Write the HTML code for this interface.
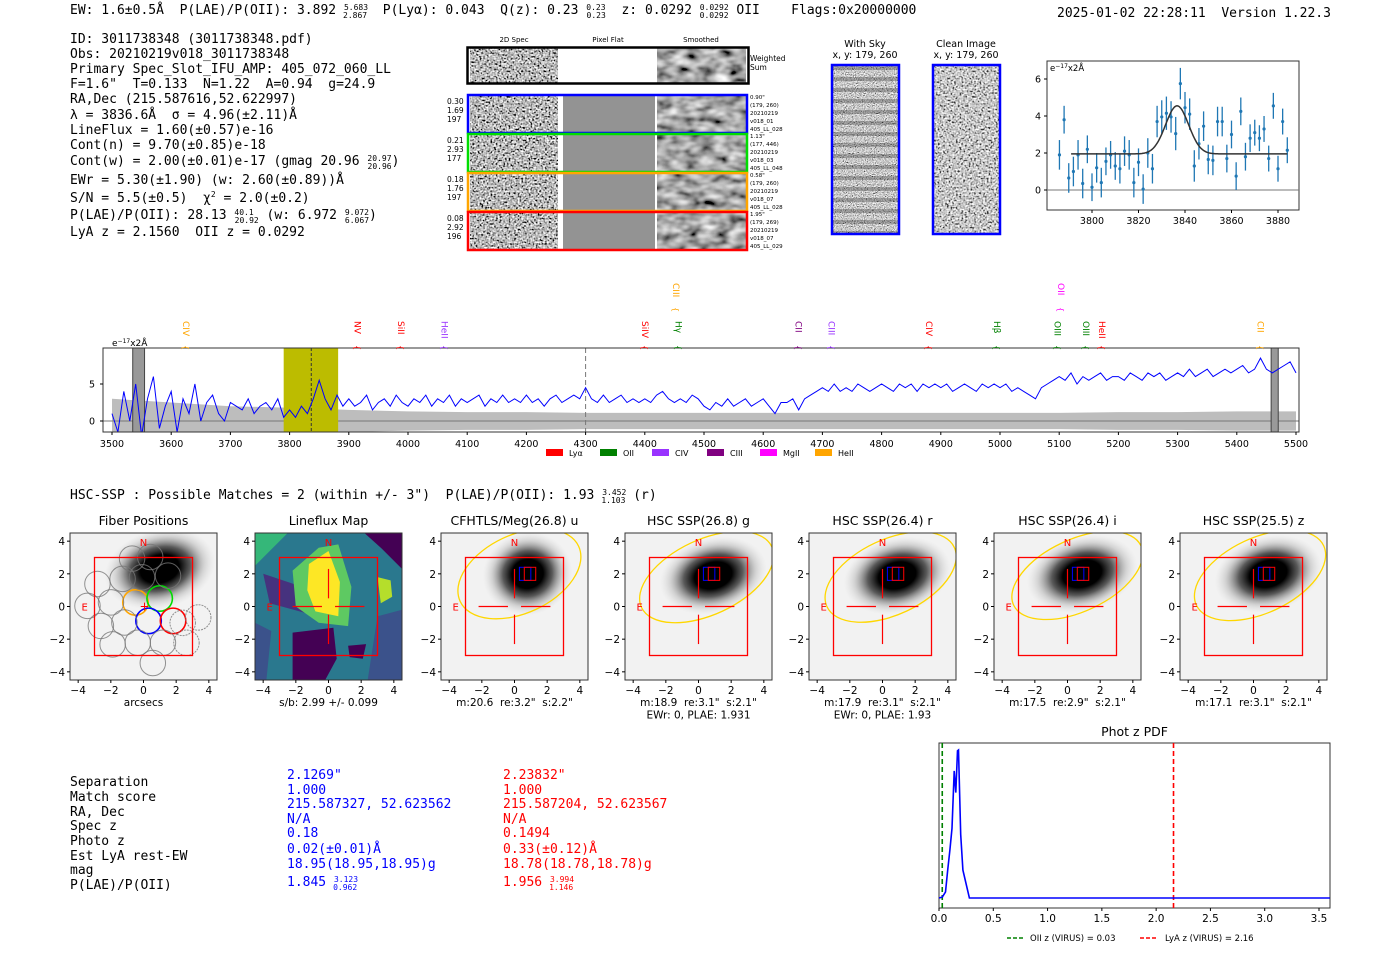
<!DOCTYPE html>
<html><head><meta charset="utf-8"><title>HETDEX detection 3011738348</title>
<style>
html,body{margin:0;padding:0;background:#fff;}
svg{display:block;}
text{white-space:pre;}
.mono{font-family:"DejaVu Sans Mono","Liberation Mono",monospace;font-size:13px;}
.sans{font-family:"DejaVu Sans","Liberation Sans",sans-serif;}
</style></head>
<body>
<svg id="fig" xmlns="http://www.w3.org/2000/svg" xml:space="preserve" width="1400" height="953" viewBox="0 0 1400 953">
<defs>
<filter id="nz" x="0" y="0" width="100%" height="100%"><feTurbulence type="fractalNoise" baseFrequency="0.55" numOctaves="1" seed="4"/><feColorMatrix type="matrix" values="0.33 0.33 0.33 0 0 0.33 0.33 0.33 0 0 0.33 0.33 0.33 0 0 0 0 0 0 1"/><feComponentTransfer><feFuncR type="linear" slope="4" intercept="-1.5"/><feFuncG type="linear" slope="4" intercept="-1.5"/><feFuncB type="linear" slope="4" intercept="-1.5"/><feFuncA type="linear" slope="0" intercept="1"/></feComponentTransfer></filter>
<filter id="nzs" x="0" y="0" width="100%" height="100%"><feTurbulence type="fractalNoise" baseFrequency="0.07 0.12" numOctaves="2" seed="9"/><feColorMatrix type="matrix" values="0.33 0.33 0.33 0 0 0.33 0.33 0.33 0 0 0.33 0.33 0.33 0 0 0 0 0 0 1"/><feComponentTransfer><feFuncR type="linear" slope="2.2" intercept="-0.7"/><feFuncG type="linear" slope="2.2" intercept="-0.7"/><feFuncB type="linear" slope="2.2" intercept="-0.7"/><feFuncA type="linear" slope="0" intercept="1"/></feComponentTransfer></filter>
<filter id="nzf" x="0" y="0" width="100%" height="100%"><feTurbulence type="fractalNoise" baseFrequency="0.9" numOctaves="1" seed="2"/><feColorMatrix type="matrix" values="0.33 0.33 0.33 0 0 0.33 0.33 0.33 0 0 0.33 0.33 0.33 0 0 0 0 0 0 1"/><feComponentTransfer><feFuncR type="linear" slope="3.2" intercept="-1.0"/><feFuncG type="linear" slope="3.2" intercept="-1.0"/><feFuncB type="linear" slope="3.2" intercept="-1.0"/><feFuncA type="linear" slope="0" intercept="1"/></feComponentTransfer></filter>
<pattern id="stripes" width="10" height="11" patternUnits="userSpaceOnUse"><rect width="10" height="4" fill="#000" opacity="0.25"/></pattern>
<radialGradient id="gal"><stop offset="0" stop-color="#000"/><stop offset="0.35" stop-color="#000"/><stop offset="0.55" stop-color="#333" stop-opacity="0.8"/><stop offset="0.8" stop-color="#999" stop-opacity="0.35"/><stop offset="1" stop-color="#ccc" stop-opacity="0"/></radialGradient>
</defs>

<g class="mono">
<text x="70" y="14">EW: 1.6±0.5Å  P(LAE)/P(OII): 3.892 <tspan font-size="8" dy="-4">5.683</tspan><tspan font-size="8" dx="-25" dy="8">2.867</tspan><tspan dy="-4">  P(Lyα): 0.043  Q(z): 0.23 </tspan><tspan font-size="8" dy="-4">0.23</tspan><tspan font-size="8" dx="-19" dy="8">0.23</tspan><tspan dy="-4">  z: 0.0292 </tspan><tspan font-size="8" dy="-4">0.0292</tspan><tspan font-size="8" dx="-29" dy="8">0.0292</tspan><tspan dy="-4"> OII    Flags:0x20000000</tspan></text>
<text x="1057" y="17">2025-01-02 22:28:11  Version 1.22.3</text>
</g>
<g class="mono">
<text x="70" y="43">ID: 3011738348 (3011738348.pdf)</text>
<text x="70" y="58">Obs: 20210219v018_3011738348</text>
<text x="70" y="73">Primary Spec_Slot_IFU_AMP: 405_072_060_LL</text>
<text x="70" y="88">F=1.6"  T=0.133  N=1.22  A=0.94  g=24.9</text>
<text x="70" y="103">RA,Dec (215.587616,52.622997)</text>
<text x="70" y="119">λ = 3836.6Å  σ = 4.96(±2.11)Å</text>
<text x="70" y="134">LineFlux = 1.60(±0.57)e-16</text>
<text x="70" y="149">Cont(n) = 9.70(±0.85)e-18</text>
<text x="70" y="165">Cont(w) = 2.00(±0.01)e-17 (gmag 20.96 <tspan font-size="8" dy="-4">20.97</tspan><tspan font-size="8" dx="-24" dy="8">20.96</tspan><tspan dy="-4">)</tspan></text>
<text x="70" y="184">EWr = 5.30(±1.90) (w: 2.60(±0.89))Å</text>
<text x="70" y="202">S/N = 5.5(±0.5)  χ<tspan font-size="8" dy="-5">2</tspan><tspan dy="5"> = 2.0(±0.2)</tspan></text>
<text x="70" y="219">P(LAE)/P(OII): 28.13 <tspan font-size="8" dy="-4">40.1</tspan><tspan font-size="8" dx="-19" dy="8">20.92</tspan><tspan dy="-4"> (w: 6.972 </tspan><tspan font-size="8" dy="-4">9.072</tspan><tspan font-size="8" dx="-24" dy="8">6.067</tspan><tspan dy="-4">)</tspan></text>
<text x="70" y="236">LyA z = 2.1560  OII z = 0.0292</text>
</g>

<g class="sans" font-size="7">
<text x="514" y="42" text-anchor="middle">2D Spec</text>
<text x="608" y="42" text-anchor="middle">Pixel Flat</text>
<text x="701" y="42" text-anchor="middle">Smoothed</text>
<rect x="470" y="48" width="88" height="35" filter="url(#nz)"/>
<rect x="558" y="48" width="99" height="35" fill="#fff"/>
<rect x="657" y="48" width="89" height="35" filter="url(#nzs)"/>
<rect x="467.5" y="47.5" width="281" height="36" fill="none" stroke="#000" stroke-width="2.5"/>
<text x="750" y="61" font-size="7.5">Weighted</text><text x="750" y="70" font-size="7.5">Sum</text>
</g>
<g id="specrows" class="sans" font-size="7"></g>

<g class="sans" font-size="9.5">
<text x="865" y="47" text-anchor="middle">With Sky</text><text x="865" y="58" text-anchor="middle">x, y: 179, 260</text>
<rect x="832" y="65" width="67" height="169" filter="url(#nzf)"/>
<rect x="832" y="65" width="67" height="169" fill="url(#stripes)"/>
<rect x="832" y="65" width="67" height="169" fill="none" stroke="#0000ff" stroke-width="2.5"/>
<text x="966" y="47" text-anchor="middle">Clean Image</text><text x="966" y="58" text-anchor="middle">x, y: 179, 260</text>
<rect x="933" y="65" width="67" height="169" filter="url(#nz)" opacity="0.8"/>
<rect x="933" y="65" width="67" height="169" fill="none" stroke="#0000ff" stroke-width="2.5"/>
</g>

<g id="inset"></g>
<g id="spec"></g>

<text class="mono" x="70" y="499">HSC-SSP : Possible Matches = 2 (within +/- 3")  P(LAE)/P(OII): 1.93 <tspan font-size="8" dy="-4">3.452</tspan><tspan font-size="8" dx="-25" dy="8">1.103</tspan><tspan dy="-4"> (r)</tspan></text>

<g id="cutouts"></g>

<g class="mono">
<g>
<text x="70" y="786">Separation</text><text x="70" y="801">Match score</text><text x="70" y="816">RA, Dec</text><text x="70" y="830">Spec z</text><text x="70" y="845">Photo z</text><text x="70" y="860">Est LyA rest-EW</text><text x="70" y="874">mag</text><text x="70" y="889">P(LAE)/P(OII)</text>
</g>
<g fill="#0000ff">
<text x="287" y="779">2.1269"</text><text x="287" y="794">1.000</text><text x="287" y="808">215.587327, 52.623562</text><text x="287" y="823">N/A</text><text x="287" y="837">0.18</text><text x="287" y="853">0.02(±0.01)Å</text><text x="287" y="868">18.95(18.95,18.95)g</text>
<text x="287" y="886">1.845 <tspan font-size="8" dy="-4">3.123</tspan><tspan font-size="8" dx="-25" dy="8">0.962</tspan></text>
</g>
<g fill="#ff0000">
<text x="503" y="779">2.23832"</text><text x="503" y="794">1.000</text><text x="503" y="808">215.587204, 52.623567</text><text x="503" y="823">N/A</text><text x="503" y="837">0.1494</text><text x="503" y="853">0.33(±0.12)Å</text><text x="503" y="868">18.78(18.78,18.78)g</text>
<text x="503" y="886">1.956 <tspan font-size="8" dy="-4">3.994</tspan><tspan font-size="8" dx="-25" dy="8">1.146</tspan></text>
</g>
</g>

<g id="pdf"></g>
</svg>

<script>
const specWaveStart = 3500, specWaveStep = 10;
const specFlux = [1,-1.5,4,0,5,-2,3,6,-1,2, 4,-1.5,3,1,5,0,2.5,3.5,1,0, 2.5,2,1.5,3,1,2,2.5,1.5,3,0.5,
 1.5,0.5,2,1,3,5.5,3,1.5,3.5,2, 3,2,2.5,3.5,1.5,2.5,3,2,3.5,2.5, 2,3,2.5,3.5,2,3,2.5,3.5,2,3,
 2.5,3,3.5,2,3,2.5,3.5,2.5,3,2.5, 3.5,2.5,3,2,3,3.5,2.5,3,3.5,3, 4.5,3,2.5,3.5,2.5,3,3.5,2.5,3,2.5,
 3,2.5,3.5,4,3,2.5,3,2.5,3.5,3, 2,1.5,2.5,2,3,2,2.5,3,2,2.5, 3,2,1,2.5,2.5,3,1.5,3,3.5,4,
 4.5,4,5,4,4.5,4,5,4.5,4,4.5, 5,4.5,4,5,4.5,5,4,5,4.5,5, 4.5,5,4,4.5,5,4.5,4,5,4.5,5,
 4.5,5,4,4.5,4,3.5,3,4.5,5,5.5, 6,5.5,6.5,5,6,5.5,6,6.5,5.5,6, 6,5.5,6.5,6,5.5,6.5,6,6.5,5.5,6,
 6.5,6,7,6,6.5,7,6,6.5,7,6.5, 7,7.5,6.5,7,8.5,7,6.5,7,7.5,8, 6.5];
const errWaveStep = 100;
const specErr = [3,2.5,2,1.8,1.5,1.3,1.2,1.2,1.1,1.1,1.1,1.1,1.1,1.1,1.1,1.1,1.1,1.2,1.2,1.3,1.3];
const specXTicks = [3500,3600,3700,3800,3900,4000,4100,4200,4300,4400,4500,4600,4700,4800,4900,5000,5100,5200,5300,5400,5500];
const specYTicks = [0,5];
const lineNames = ["CIV","NV","SiII","HeII","SiIV","CIII","Hγ","CII","CIII","CIV","Hβ","OIII","OII","OIII","HeII","CII"];
const lineWaves = [3625,3915,3988,4062,4400,4453,4457,4660,4715,4880,4995,5097,5103,5145,5172,5440];
const lineColors = ["#ffa500","#ff0000","#ff0000","#9933ff","#ff0000","#ffa500","#008000","#800080","#9933ff","#ff0000","#008000","#008000","#ff00ff","#008000","#ff0000","#ffa500"];
const lineHigh = [0,0,0,0,0,1,0,0,0,0,0,0,1,0,0,0];
const legendNames = ["Lyα","OII","CIV","CIII","MgII","HeII"];
const legendColors = ["#ff0000","#008000","#9933ff","#800080","#ff00ff","#ffa500"];

const fitWave = [3786,3788,3790,3792,3794,3796,3798,3800,3802,3804,3806,3808,3810,3812,3814,3816,3818,3820,3822,3824,3826,3828,3830,3832,3834,3836,3838,3840,3842,3844,3846,3848,3850,3852,3854,3856,3858,3860,3862,3864,3866,3868,3870,3872,3874,3876,3878,3880,3882,3884];
const fitFlux = [1.9,3.8,0.65,1.0,1.9,0.35,2.2,0.15,1.2,0.4,1.55,1.9,1.3,1.15,2.1,1.9,0.4,1.5,0.05,2.0,1.15,3.7,3.95,4.15,3.95,3.05,5.75,4.45,4.1,1.3,2.5,3.45,1.65,1.6,3.7,3.7,1.7,3.0,0.75,4.25,1.8,2.8,3.1,2.8,3.3,1.7,4.55,1.15,3.7,2.15];
const fitErr = [0.8,0.75,0.8,0.8,0.8,0.8,0.75,0.75,0.8,0.8,0.75,0.75,0.75,0.8,0.8,0.8,0.8,0.75,0.8,0.8,0.8,0.85,0.9,0.9,0.85,0.9,0.85,0.85,0.85,0.85,0.85,0.8,0.8,0.8,0.8,0.8,0.75,0.75,0.75,0.75,0.75,0.75,0.7,0.7,0.7,0.7,0.7,0.7,0.7,0.7];
const fitParams = [1.95, 2.6, 3836.6, 4.96];
const insetXTicks = [3800,3820,3840,3860,3880];
const insetYTicks = [0,2,4,6];

const pdfZ = [0,0.03,0.06,0.08,0.1,0.12,0.14,0.155,0.17,0.18,0.2,0.22,0.28,3.6];
const pdfP = [0,0.006,0.039,0.18,0.31,0.45,0.82,0.68,0.95,0.955,0.41,0.18,0,0];
const pdfXTicks = [0,0.5,1,1.5,2,2.5,3,3.5];
const pdfOIIz = 0.03, pdfLyAz = 2.16;

const rowLabels = [["0.30","1.69","197"],["0.21","2.93","177"],["0.18","1.76","197"],["0.08","2.92","196"]];
const rowInfo = [["0.90\"","(179, 260)","20210219","v018_01","405_LL_028"],["1.13\"","(177, 446)","20210219","v018_03","405_LL_048"],["0.58\"","(179, 260)","20210219","v018_07","405_LL_028"],["1.95\"","(179, 269)","20210219","v018_07","405_LL_029"]];
const rowColors = ["#0000ff","#00dd00","#ffa500","#ff0000"];

const panelTitles = ["Fiber Positions","Lineflux Map","CFHTLS/Meg(26.8) u","HSC SSP(26.8) g","HSC SSP(26.4) r","HSC SSP(26.4) i","HSC SSP(25.5) z"];
const panelCaps = [["arcsecs"],["s/b: 2.99 +/- 0.099"],["m:20.6  re:3.2\"  s:2.2\""],["m:18.9  re:3.1\"  s:2.1\"","EWr: 0, PLAE: 1.931"],["m:17.9  re:3.1\"  s:2.1\"","EWr: 0, PLAE: 1.93"],["m:17.5  re:2.9\"  s:2.1\""],["m:17.1  re:3.1\"  s:2.1\""]];
const panelTicks = [-4,-2,0,2,4];
const fiberX = [-0.49,0.99,0.31,1.81,-2.82,-1.99,-3.43,-2.61,-1.17,-1.89,-0.35,1.19,0.57,-1.28,2.63,3.35,-0.7,0.41,-0.09,1.5,2.4];
const fiberY = [0.25,0.49,-0.88,-0.88,1.38,0.25,0.04,-1.19,-0.98,-2.32,-2.22,-2.22,-3.46,1.69,-2.22,-0.67,2.93,3.03,1.79,1.89,-1.0];
const fiberColor = ["#ffa500","#00dd00","#0000ff","#ff0000","g","g","g","g","g","g","g","g","g","g","d","d","g","g","g","g","d"];
const galX = [1.0,null,0.8,0.9,0.9,0.9,0.9], galY=[2.3,null,2.0,1.9,1.9,2.0,2.0], galRX=[3.0,null,2.4,2.9,2.9,3.0,2.9], galRY=[2.1,null,2.2,2.0,2.0,2.0,2.0];
const ellX=[null,null,0.3,0.5,0.5,0.6,0.4], ellY=[null,null,2.0,1.8,1.8,1.9,1.9], ellRX=[null,null,4.0,4.4,4.3,4.3,4.3], ellRY=[null,null,2.4,2.3,2.3,2.2,2.3];

const NS="http://www.w3.org/2000/svg";
function mk(tag,attrs,parent){const e=document.createElementNS(NS,tag);for(const k in attrs)e.setAttribute(k,attrs[k]);if(parent)parent.appendChild(e);return e;}
function txt(parent,x,y,s,attrs){const t=mk("text",Object.assign({x:x,y:y},attrs||{}),parent);t.textContent=s;return t;}
function lin(d0,d1,r0,r1){return v=>r0+(v-d0)*(r1-r0)/(d1-d0);}
const SANS='"DejaVu Sans","Liberation Sans",sans-serif';

(function(){
 const g=document.getElementById("specrows");
 const tops=[95,134,173,212];
 tops.forEach((t,i)=>{
  const r=mk("g",{},g);
  
  
  mk("rect",{x:470,y:t+1,width:88,height:37,filter:"url(#nz)"},r);
  mk("rect",{x:563,y:t+1,width:92,height:37,fill:"#939393"},r);
  mk("rect",{x:657,y:t+1,width:89,height:37,filter:"url(#nzs)"},r);
  mk("rect",{x:468,y:t,width:279,height:38,fill:"none",stroke:rowColors[i],"stroke-width":2.5},r);
  rowLabels[i].forEach((s,j)=>txt(r,447,t+9+j*9,s,{"font-size":7.5}));
  rowInfo[i].forEach((s,j)=>txt(r,750,t+4+j*8,s,{"font-size":5.5}));
 });
})();

(function(){
 const g=document.getElementById("inset");
 const L=1047,R=1299,T=61,B=210;
 const x=lin(3800,3880,1092,1278), y=lin(0,6,190,79);
 mk("rect",{x:L,y:T,width:R-L,height:B-T,fill:"#fff",stroke:"#333","stroke-width":1},g);
 mk("line",{x1:L,x2:R,y1:y(0),y2:y(0),stroke:"#777","stroke-width":1},g);
 insetXTicks.forEach(v=>{mk("line",{x1:x(v),x2:x(v),y1:B,y2:B+3,stroke:"#000"},g);txt(g,x(v),B+14,String(v),{"text-anchor":"middle","font-size":9.5,"font-family":SANS});});
 insetYTicks.forEach(v=>{mk("line",{x1:L-3,x2:L,y1:y(v),y2:y(v),stroke:"#000"},g);txt(g,L-6,y(v)+3.5,String(v),{"text-anchor":"end","font-size":9.5,"font-family":SANS});});
 fitWave.forEach((w,i)=>{
  const p=mk("line",{x1:x(w),x2:x(w),y1:y(fitFlux[i]-fitErr[i]),y2:y(fitFlux[i]+fitErr[i]),stroke:"#1f77b4","stroke-width":1.3},g);
  
  
  const c=mk("circle",{cx:x(w),cy:y(fitFlux[i]),r:1.6,fill:"#1f77b4"},g);
  
  
 });
 let d="";for(let w=3791;w<=3884;w+=0.5){const f=fitParams[0]+fitParams[1]*Math.exp(-0.5*Math.pow((w-fitParams[2])/fitParams[3],2));d+=(d?"L":"M")+x(w).toFixed(1)+","+y(f).toFixed(1);}
 const m=mk("path",{d:d,fill:"none",stroke:"#333","stroke-width":1.5},g);
 
 
 const t=txt(g,L+3,T+10,"e",{"font-size":8.5,"font-family":SANS});
 const s1=mk("tspan",{"font-size":6,dy:-3},t);s1.textContent="−17";const s2=mk("tspan",{dy:3},t);s2.textContent="x2Å";
})();

(function(){
 const g=document.getElementById("spec");
 const L=103,R=1299,T=348,B=432;
 const x=lin(3500,5500,112,1296), y=lin(0,5,421,384);
 mk("rect",{x:L,y:T,width:R-L,height:B-T,fill:"#fff"},g);
 const cp=mk("clipPath",{id:"specclip"},g); mk("rect",{x:L,y:T,width:R-L,height:B-T},cp);
 const inner=mk("g",{"clip-path":"url(#specclip)"},g);
 let up="",dn=[];
 specErr.forEach((e,i)=>{const w=specWaveStart+i*errWaveStep;up+=(up?"L":"M")+x(w).toFixed(1)+","+y(e).toFixed(1);dn.push(x(w).toFixed(1)+","+y(-e).toFixed(1));});
 const band=mk("path",{d:up+"L"+dn.reverse().join("L")+"Z",fill:"#bdbdbd"},inner);
 
 
 mk("line",{x1:L,x2:R,y1:y(0),y2:y(0),stroke:"#777","stroke-width":1},inner);
 const lw=mk("rect",{x:x(3790),y:T,width:x(3882)-x(3790),height:B-T,fill:"#bcbc00"},inner);
 
 
 mk("line",{x1:x(3836.6),x2:x(3836.6),y1:T,y2:B,stroke:"#333","stroke-dasharray":"3,2"},inner);
 mk("line",{x1:x(4300),x2:x(4300),y1:T,y2:B,stroke:"#777","stroke-dasharray":"5,3"},inner);
 mk("rect",{x:x(3535),y:T,width:x(3555)-x(3535),height:B-T,fill:"#999",stroke:"#444"},inner);
 mk("rect",{x:x(5458),y:T,width:x(5470)-x(5458),height:B-T,fill:"#999",stroke:"#444"},inner);
 let d="";specFlux.forEach((f,i)=>{const w=specWaveStart+i*specWaveStep;d+=(d?"L":"M")+x(w).toFixed(1)+","+y(f).toFixed(1);});
 const sp=mk("path",{d:d,fill:"none",stroke:"#0000ff","stroke-width":1},inner);
 
 
 mk("rect",{x:L,y:T,width:R-L,height:B-T,fill:"none",stroke:"#333","stroke-width":1},g);
 specXTicks.forEach(v=>{mk("line",{x1:x(v),x2:x(v),y1:B,y2:B+3,stroke:"#000"},g);txt(g,x(v),B+15,String(v),{"text-anchor":"middle","font-size":9.5,"font-family":SANS});});
 specYTicks.forEach(v=>{mk("line",{x1:L-3,x2:L,y1:y(v),y2:y(v),stroke:"#000"},g);txt(g,L-8,y(v)+3.5,String(v),{"text-anchor":"end","font-size":9.5,"font-family":SANS});});
 const t=txt(g,112,346,"e",{"font-size":9,"font-family":SANS});
 const s1=mk("tspan",{"font-size":6,dy:-3},t);s1.textContent="−17";const s2=mk("tspan",{dy:3},t);s2.textContent="x2Å";
 lineNames.forEach((n,i)=>{
  const lx=x(lineWaves[i]), ty=lineHigh[i]?283:321;
  const lt=txt(g,0,0,n,{transform:"translate("+(lx-3)+","+ty+") rotate(90)","font-size":9,fill:lineColors[i],"font-family":SANS});
  
  
  txt(g,0,0,"{",{transform:"translate("+(lx-3)+","+(ty+24)+") rotate(90)","font-size":8,fill:lineColors[i],"font-family":SANS});
 });
 const lx0=[546,600,652,707,760,815];
 legendNames.forEach((n,i)=>{
  const lg=mk("g",{},g);
  
  
  mk("rect",{x:lx0[i],y:449,width:17,height:7,fill:legendColors[i]},lg);
  txt(lg,lx0[i]+23,456,n,{"font-size":8,"font-family":SANS});
 });
})();

(function(){
 const g=document.getElementById("cutouts");
 const lefts=[70,255,441,625,809,994,1180], T=533, S=147;
 lefts.forEach((L,p)=>{
  const pg=mk("g",{},g);
  
  
  const x=lin(-4.5,4.5,L,L+S), y=lin(4.5,-4.5,T,T+S), u=S/9;
  const cid="clip"+p; const cp=mk("clipPath",{id:cid},pg); mk("rect",{x:L,y:T,width:S,height:S},cp);
  const inner=mk("g",{"clip-path":"url(#"+cid+")"},pg);
  if(p===1){
   mk("rect",{x:L,y:T,width:S,height:S,fill:"#2a788e"},inner);
   const poly=(pts,c)=>mk("polygon",{points:pts.map(q=>x(q[0]).toFixed(1)+","+y(q[1]).toFixed(1)).join(" "),fill:c},inner);
   poly([[-4.5,4.5],[-2.5,4.5],[-4.5,2.5]],"#35b779");
   poly([[2.2,4.5],[4.5,4.5],[4.5,2.3],[3.2,3.6]],"#440154");
   poly([[-4,2],[-1.6,1.2],[-1.4,-0.4],[-3.6,0.2]],"#46327e");
   poly([[-4.5,-1],[-3.5,-1.5],[-3.8,-4.5],[-4.5,-4.5]],"#3b528b");
   poly([[3,-0.6],[4.5,-0.2],[4.5,-4.5],[2.4,-4.5]],"#3b528b");
   poly([[-2.2,-1.6],[0.3,-1.3],[0.5,-3.2],[-0.2,-4.5],[-2.2,-4.5]],"#440154");
   poly([[1.2,-2.4],[2.3,-2.3],[2.1,-3.2],[1.3,-3.1]],"#440154");
   poly([[-2.2,2.2],[-0.6,3.6],[0.6,3.8],[1.4,1.2],[1.2,-1.2],[-0.6,-1],[-2,0]],"#5ec962");
   poly([[-1.2,2.6],[0,3.4],[0.7,1.5],[0.6,-0.6],[-0.8,-0.3],[-1.3,1]],"#fde725");
   poly([[3,1.8],[3.8,1.6],[3.9,0.6],[3.2,0.2]],"#b5de2b");
  } else {
   mk("rect",{x:L,y:T,width:S,height:S,fill:"#f2f2f2"},inner);
   const gal=mk("ellipse",{cx:x(galX[p]),cy:y(galY[p]),rx:galRX[p]*u*1.15,ry:galRY[p]*u*1.15,fill:"url(#gal)",transform:"rotate(-15 "+x(galX[p])+" "+y(galY[p])+")"},inner);
   
   
  }
  if(p===0){
   fiberX.forEach((fx,i)=>{
    const col=fiberColor[i], grey=col==="g"||col==="d";
    const c=mk("circle",{cx:x(fx),cy:y(fiberY[i]),r:0.78*u,fill:"none",stroke:grey?"#777":col,"stroke-width":grey?1:1.6,"stroke-dasharray":col==="d"?"2,1":"none",opacity:grey?0.8:1},inner);
    
    
   });
   txt(inner,x(0)-4,y(0)+4,"+",{fill:"#ff0000","font-size":12,"font-family":SANS});
  }
  if(ellX[p]!==null){
   const e=mk("ellipse",{cx:x(ellX[p]),cy:y(ellY[p]),rx:ellRX[p]*u,ry:ellRY[p]*u,fill:"none",stroke:"#ffd700","stroke-width":1.3,transform:"rotate(-25 "+x(ellX[p])+" "+y(ellY[p])+")"},inner);
   
   
   mk("rect",{x:x(0.3),y:y(2.4),width:0.7*u,height:0.8*u,fill:"none",stroke:"#0000ff","stroke-width":1},inner);
   mk("rect",{x:x(0.6),y:y(2.4),width:0.7*u,height:0.8*u,fill:"none",stroke:"#ff0000","stroke-width":1},inner);
  }
  mk("rect",{x:x(-3),y:y(3),width:6*u,height:6*u,fill:"none",stroke:"#ff0000","stroke-width":1.3},inner);
  if(p>0){
   [[-2.2,0,-0.4,0],[0.4,0,2.2,0],[0,0.5,0,2.3],[0,-0.5,0,-2.3]].forEach(s=>mk("line",{x1:x(s[0]),y1:y(s[1]),x2:x(s[2]),y2:y(s[3]),stroke:"#ff0000","stroke-width":1.2},inner));
  }
  txt(inner,x(0),y(3.7),"N",{"text-anchor":"middle",fill:"#ff0000","font-size":10,"font-family":SANS});
  txt(inner,x(-3.6),y(0)+4,"E",{"text-anchor":"middle",fill:"#ff0000","font-size":10,"font-family":SANS});
  mk("rect",{x:L,y:T,width:S,height:S,fill:"none",stroke:"#333","stroke-width":1},pg);
  panelTicks.forEach(v=>{
   mk("line",{x1:x(v),x2:x(v),y1:T+S,y2:T+S+3,stroke:"#000"},pg);
   txt(pg,x(v),T+S+14,v<0?"−"+(-v):String(v),{"text-anchor":"middle","font-size":10.5,"font-family":SANS});
   mk("line",{x1:L-3,x2:L,y1:y(v),y2:y(v),stroke:"#000"},pg);
   txt(pg,L-5,y(v)+4,v<0?"−"+(-v):String(v),{"text-anchor":"end","font-size":10.5,"font-family":SANS});
  });
  const pt=txt(pg,L+S/2,T-8,panelTitles[p],{"text-anchor":"middle","font-size":12.5,"font-family":SANS});
  
  
  panelCaps[p].forEach((c,j)=>txt(pg,L+S/2,T+S+26+j*12.5,c,{"text-anchor":"middle","font-size":10.5,"font-family":SANS}));
 });
})();

(function(){
 const g=document.getElementById("pdf");
 const L=939,R=1330,T=743,B=908;
 const x=lin(0,3.5,939,1319), y=lin(0,1,898,743);
 mk("rect",{x:L,y:T,width:R-L,height:B-T,fill:"#fff",stroke:"#333","stroke-width":1},g);
 txt(g,(L+R)/2,736,"Phot z PDF",{"text-anchor":"middle","font-size":12.5,"font-family":SANS});
 const gl=mk("line",{x1:x(pdfOIIz),x2:x(pdfOIIz),y1:T,y2:B,stroke:"#008000","stroke-width":1.6,"stroke-dasharray":"5,3"},g);
 
 
 const rl=mk("line",{x1:x(pdfLyAz),x2:x(pdfLyAz),y1:T,y2:B,stroke:"#ff0000","stroke-width":1.6,"stroke-dasharray":"5,3"},g);
 
 
 let d="";pdfZ.forEach((z,i)=>{d+=(d?"L":"M")+x(z).toFixed(1)+","+y(pdfP[i]).toFixed(1);});
 const c=mk("path",{d:d,fill:"none",stroke:"#0000ff","stroke-width":1.6},g);
 
 
 pdfXTicks.forEach(v=>{mk("line",{x1:x(v),x2:x(v),y1:B,y2:B+3,stroke:"#000"},g);txt(g,x(v),B+14,v.toFixed(1),{"text-anchor":"middle","font-size":10.5,"font-family":SANS});});
 const lg=mk("g",{},g);
 
 
 mk("line",{x1:1007,x2:1025,y1:938,y2:938,stroke:"#008000","stroke-width":1.6,"stroke-dasharray":"4,2"},lg);
 txt(lg,1030,941,"OII z (VIRUS) = 0.03",{"font-size":8.5,"font-family":SANS});
 mk("line",{x1:1140,x2:1158,y1:938,y2:938,stroke:"#ff0000","stroke-width":1.6,"stroke-dasharray":"4,2"},lg);
 txt(lg,1165,941,"LyA z (VIRUS) = 2.16",{"font-size":8.5,"font-family":SANS});
})();
</script>
</body></html>
